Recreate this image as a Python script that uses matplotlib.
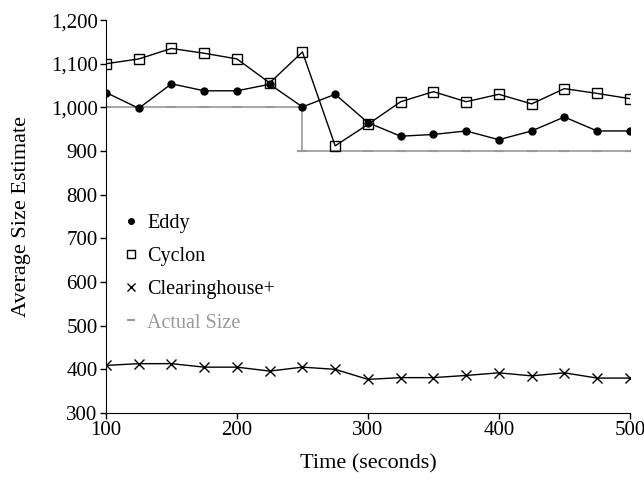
import matplotlib.pyplot as plt
from matplotlib.ticker import FuncFormatter

plt.rcParams['font.family'] = ['Liberation Serif', 'DejaVu Serif']
plt.rcParams['font.size'] = 15

# time points (seconds)
t = [100, 125, 150, 175, 200, 225, 250, 275, 300, 325, 350, 375, 400, 425, 450, 475, 500]

eddy = [1034, 998, 1054, 1038, 1038, 1053, 1001, 1030, 965, 934, 938, 946, 926, 946, 978, 946, 946]
cyclon = [1100, 1111, 1135, 1124, 1111, 1056, 1127, 912, 961, 1013, 1036, 1013, 1030, 1008, 1043, 1032, 1020]
clearinghouse = [409, 413, 413, 405, 405, 396, 405, 400, 377, 381, 381, 386, 392, 385, 392, 380, 380]

actual_t = [100, 125, 150, 175, 200, 225, 250, 250, 275, 300, 325, 350, 375, 400, 425, 450, 475, 500]
actual = [1000, 1000, 1000, 1000, 1000, 1000, 1000, 900, 900, 900, 900, 900, 900, 900, 900, 900, 900, 900]

fig = plt.figure(figsize=[6.44, 4.78], dpi=100)
ax = fig.add_axes([0.1646, 0.136, 0.8134, 0.822])

gray = '#999999'
ax.plot(actual_t, actual, color=gray, lw=1.2, marker='_', ms=7, mew=1.5, label='Actual Size', zorder=1)
ax.plot(t, eddy, color='black', lw=1, marker='o', ms=5, label='Eddy', zorder=3)
ax.plot(t, cyclon, color='black', lw=1, marker='s', ms=6.5, mfc='none', mew=1, label='Cyclon', zorder=3)
ax.plot(t, clearinghouse, color='black', lw=1, marker='x', ms=6.5, mew=1, label='Clearinghouse+', zorder=3)

ax.set_xlim(100, 500)
ax.set_ylim(300, 1200)
ax.set_xticks([100, 200, 300, 400, 500])
ax.set_yticks(range(300, 1201, 100))
ax.yaxis.set_major_formatter(FuncFormatter(lambda v, p: f'{int(v):,}'))

ax.spines['top'].set_visible(False)
ax.spines['right'].set_visible(False)
ax.tick_params(direction='out', length=4, width=1, labelsize=15, pad=2)

ax.set_xlabel('Time (seconds)', fontsize=16, labelpad=10)
ax.set_ylabel('Average Size Estimate', fontsize=16, labelpad=14)

handles, labels = ax.get_legend_handles_labels()
order = [1, 2, 3, 0]
leg = ax.legend([handles[i] for i in order], [labels[i] for i in order],
                loc='upper left', bbox_to_anchor=(0.013, 0.553), frameon=False,
                handlelength=0, handletextpad=0.8, labelspacing=0.7,
                markerscale=0.8, fontsize=14.5)
for h in leg.legend_handles:
    h.set_linestyle('none')
leg.get_texts()[3].set_color(gray)

plt.savefig('out.png', dpi=100)
